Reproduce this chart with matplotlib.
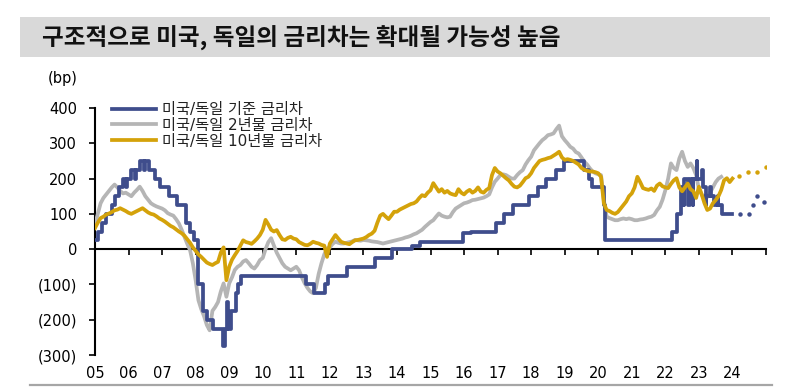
import matplotlib
matplotlib.use('Agg')
import matplotlib.pyplot as plt
import numpy as np
import pandas as pd
from matplotlib.patches import Rectangle
from matplotlib.lines import Line2D

plt.rcParams['font.family'] = ['DejaVu Sans', 'Noto Sans CJK KR']

# ---------------- data ----------------
title = '구조적으로 미국, 독일의 금리차는 확대될 가능성 높음'
unit_label = '(bp)'
series_names = ['미국/독일 기준 금리차', '미국/독일 2년물 금리차', '미국/독일 10년물 금리차']
year_labels = ['05', '06', '07', '08', '09', '10', '11', '12', '13', '14',
               '15', '16', '17', '18', '19', '20', '21', '22', '23', '24']
year_ticks = list(range(2005, 2026))
y_ticks = [-300, -200, -100, 0, 100, 200, 300, 400]

# policy rate spread (step series), change dates and values
policy_dates = ['2005-01-01', '2005-02-02', '2005-03-22', '2005-05-03', '2005-06-30', '2005-08-09',
                '2005-09-20', '2005-11-01', '2005-12-06', '2005-12-13', '2006-01-31', '2006-03-08',
                '2006-03-28', '2006-05-10', '2006-06-15', '2006-06-29', '2006-08-09', '2006-10-11',
                '2006-12-13', '2007-03-14', '2007-06-13', '2007-09-18', '2007-10-31', '2007-12-11',
                '2008-01-22', '2008-01-30', '2008-03-18', '2008-04-30', '2008-07-09', '2008-10-29',
                '2008-11-12', '2008-12-10', '2008-12-16', '2009-01-21', '2009-03-11', '2009-04-08',
                '2009-05-13', '2011-04-13', '2011-07-13', '2011-11-09', '2011-12-14', '2012-07-11',
                '2013-05-08', '2013-11-13', '2014-06-11', '2014-09-10', '2015-12-16', '2016-03-16',
                '2016-12-14', '2017-03-15', '2017-06-14', '2017-12-13', '2018-03-21', '2018-06-13',
                '2018-09-26', '2018-12-19', '2019-07-31', '2019-09-18', '2019-10-30', '2020-03-03',
                '2020-03-15', '2022-03-16', '2022-05-04', '2022-06-15', '2022-07-21', '2022-07-27',
                '2022-09-08', '2022-09-21', '2022-10-27', '2022-11-02', '2022-12-14', '2022-12-15',
                '2023-02-01', '2023-02-10', '2023-03-15', '2023-03-22', '2023-05-03', '2023-05-10',
                '2023-06-15', '2023-07-26', '2023-08-02', '2023-09-14', '2024-01-01']
policy_values = [25, 50, 75, 100, 125, 150,
                 175, 200, 175, 200, 225, 200,
                 225, 250, 225, 250, 225, 200,
                 175, 150, 125, 75, 50, 25,
                 -50, -100, -175, -200, -225, -275,
                 -225, -150, -225, -175, -125, -100,
                 -75, -100, -125, -100, -75, -50,
                 -25, 0, 10, 20, 45, 50,
                 75, 100, 125, 150, 175, 200,
                 225, 250, 225, 200, 175, 125,
                 25, 50, 100, 175, 125, 200,
                 125, 200, 125, 200, 250, 200,
                 225, 175, 125, 150, 175, 150,
                 125, 150, 125, 100, 100]

# 2-year spread, monthly from Jan 2005
spread_2y = [70, 100, 130, 145, 155, 165, 175, 183, 175, 165, 158, 160,
             155, 150, 160, 168, 177, 165, 150, 140, 130, 125, 121, 118,
             115, 110, 102, 98, 95, 85, 73, 55, 35, 15, -3, -40,
             -88, -145, -170, -190, -215, -230, -175, -164, -150, -120, -97, -135,
             -97, -80, -59, -50, -45, -35, -31, -40, -50, -55, -45, -31,
             -25, 0, 20, 31, 10, -10, -25, -40, -50, -55, -60, -55,
             -50, -60, -80, -97, -110, -120, -125, -110, -70, -40, -15, 2,
             5, 15, 21, 18, 16, 16, 18, 20, 22, 26, 25, 24,
             26, 25, 24, 22, 21, 20, 18, 16, 18, 20, 22, 24,
             26, 28, 30, 33, 35, 38, 42, 45, 50, 55, 63, 70,
             77, 82, 92, 101, 95, 92, 90, 92, 105, 115, 120, 125,
             130, 132, 135, 139, 140, 142, 144, 146, 150, 155, 175, 191,
             200, 210, 212, 210, 205, 200, 200, 210, 218, 224, 240, 252,
             262, 280, 290, 300, 309, 315, 323, 325, 328, 340, 350, 320,
             309, 300, 290, 285, 275, 271, 260, 248, 240, 229, 220, 215,
             212, 210, 139, 92, 88, 85, 82, 82, 85, 87, 85, 87,
             85, 82, 82, 84, 85, 87, 90, 92, 97, 110, 120, 140,
             167, 200, 243, 230, 224, 257, 276, 250, 233, 243, 230, 210,
             170, 155, 140, 148, 160, 175, 190, 200, 205]

# 10-year spread, monthly from Jan 2005
spread_10y = [60, 75, 88, 92, 98, 101, 105, 110, 112, 116, 112, 108,
              103, 100, 104, 108, 112, 116, 110, 104, 100, 98, 93, 87,
              83, 78, 72, 66, 62, 56, 50, 45, 38, 28, 18, 5,
              -5, -15, -22, -30, -38, -42, -45, -40, -36, -10, 5, -88,
              -50, -30, -17, -5, 10, 25, 20, 18, 15, 22, 30, 40,
              55, 83, 70, 55, 50, 54, 40, 28, 26, 32, 35, 30,
              28, 20, 16, 12, 11, 15, 21, 18, 16, 12, 10, -22,
              16, 28, 40, 30, 21, 18, 16, 14, 20, 25, 26, 28,
              30, 34, 40, 44, 52, 75, 95, 100, 92, 85, 95, 106,
              106, 112, 116, 120, 124, 128, 130, 135, 145, 153, 150, 160,
              167, 187, 175, 163, 170, 160, 165, 158, 155, 153, 170, 160,
              155, 163, 168, 160, 165, 175, 163, 160, 168, 173, 210, 230,
              220, 215, 208, 201, 195, 185, 177, 175, 180, 190, 201, 205,
              215, 230, 240, 250, 253, 255, 258, 260, 265, 270, 276, 260,
              253, 255, 253, 250, 245, 240, 230, 225, 222, 220, 220, 218,
              215, 205, 130, 111, 108, 103, 100, 105, 115, 125, 135, 150,
              158, 175, 205, 190, 173, 170, 168, 172, 165, 180, 186, 178,
              175, 173, 185, 195, 201, 175, 164, 175, 186, 170, 164, 145,
              177, 155, 130, 111, 115, 130, 139, 150, 168, 195, 201, 190,
              200]

# forecasts (dots)
fc_policy_x = [2024.22, 2024.49, 2024.62, 2024.74, 2024.94]
fc_policy_y = [101, 101, 125, 150, 134]
fc_10y_x = [2024.20, 2024.45, 2024.73, 2024.99]
fc_10y_y = [208, 219, 219, 232]

# ---------------- helpers ----------------
def to_decimal_year(dates):
    d = pd.to_datetime(pd.Series(dates))
    return (d.dt.year + (d.dt.dayofyear - 1) / 365.0).to_numpy()

def monthly_x(n, start=2005):
    return start + np.arange(n) / 12.0

def fmt_y(v):
    return f'({abs(v)})' if v < 0 else f'{v}'

# ---------------- figure ----------------
W, H = 786, 390
fig = plt.figure(figsize=(W / 100, H / 100), dpi=100)

# title bar
fig.patches.append(Rectangle((20 / W, 1 - 57 / H), 750 / W, 40 / H,
                             transform=fig.transFigure, facecolor='#d9d9d9',
                             edgecolor='none', zorder=0))
fig.text(42 / W, 1 - 38 / H, title, fontsize=17, fontweight='bold',
         family=['Noto Sans CJK KR'], va='center', ha='left', color='#111111')
# bottom rule
fig.lines.append(Line2D([30 / W, 772 / W], [1 - 385 / H, 1 - 385 / H],
                        transform=fig.transFigure, color='#a6a6a6', lw=1.6))

ax = fig.add_axes([95 / W, 1 - 355 / H, (766 - 95) / W, (355 - 108) / H])
ax.set_xlim(2005, 2025)
ax.set_ylim(-300, 400)

c_blue = '#3f4d8c'
c_gray = '#b5b5b5'
c_gold = '#d4a20a'
lw = 2.7

l2, = ax.plot(monthly_x(len(spread_2y)), spread_2y, color=c_gray, lw=lw, zorder=3,
              solid_joinstyle='round')
l1, = ax.plot(to_decimal_year(policy_dates), policy_values, color=c_blue, lw=lw,
              drawstyle='steps-post', zorder=4)
l3, = ax.plot(monthly_x(len(spread_10y)), spread_10y, color=c_gold, lw=lw, zorder=5,
              solid_joinstyle='round')
ax.plot(fc_policy_x, fc_policy_y, ls='none', marker='o', ms=3.2, color=c_blue,
        markeredgewidth=0, zorder=4)
ax.plot(fc_10y_x, fc_10y_y, ls='none', marker='o', ms=3.2, color=c_gold,
        markeredgewidth=0, zorder=5)

for s in ['top', 'right']:
    ax.spines[s].set_visible(False)
ax.spines['bottom'].set_position(('data', 0))
ax.spines['bottom'].set_linewidth(1.5)
ax.spines['bottom'].set_zorder(2)
ax.spines['left'].set_linewidth(1.5)

ax.set_xticks(year_ticks)
ax.tick_params(axis='x', direction='out', length=4, width=1.2, labelbottom=False)
ax.set_yticks(y_ticks)
ax.set_yticklabels([fmt_y(v) for v in y_ticks])
ax.tick_params(axis='y', direction='out', length=4, width=1.2, pad=9,
               labelsize=10.5, colors='black')

sec = ax.secondary_xaxis('bottom')
sec.set_xticks(year_ticks[:-1])
sec.set_xticklabels(year_labels)
sec.tick_params(length=0, pad=8, labelsize=10.5)
sec.spines['bottom'].set_visible(False)

fig.text(48 / W, 1 - 78 / H, unit_label, fontsize=10.5, va='center', ha='left')

leg = ax.legend([l1, l2, l3], series_names, loc='upper left',
                bbox_to_anchor=(112 / W, 1 - 102 / H), bbox_transform=fig.transFigure,
                frameon=False, fontsize=11, handlelength=2.9, handletextpad=0.4,
                labelspacing=0.05, borderpad=0, borderaxespad=0)
for t in leg.get_texts():
    t.set_color('#222222')

fig.savefig('out.png', dpi=100)
